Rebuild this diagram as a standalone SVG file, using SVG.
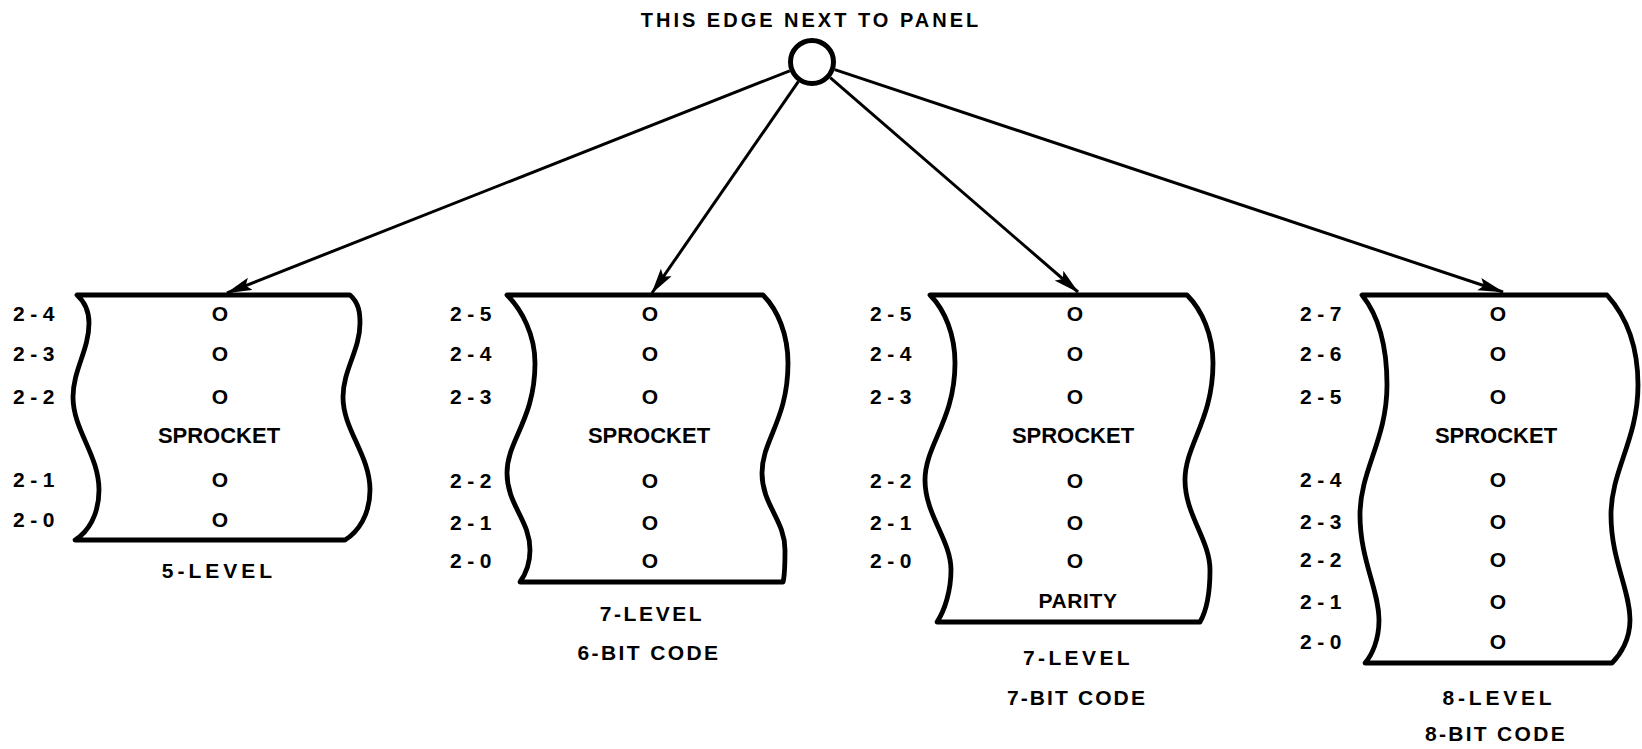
<svg xmlns="http://www.w3.org/2000/svg" width="1642" height="749" viewBox="0 0 1642 749">
<style>
text{font-family:"Liberation Sans",Arial,sans-serif;font-weight:bold;fill:#000}
.tape{fill:#fff;stroke:#000;stroke-width:4.8;stroke-linejoin:round}
.lbl{font-size:21px;letter-spacing:5.5px}
.hole{font-size:21px;text-anchor:middle}
.spr{font-size:22px;text-anchor:middle}
.cap{font-size:21px;text-anchor:middle}
.conn line{stroke:#000;stroke-width:3}
</style>
<defs>
<marker id="ah" viewBox="0 0 26 14" refX="25" refY="7" markerWidth="26" markerHeight="14" markerUnits="userSpaceOnUse" orient="auto">
<path d="M0,0.5 L26,7 L0,13.5 L5,7 Z" fill="#000"/>
</marker>
</defs>
<rect width="1642" height="749" fill="#fff"/>

<g id="panel-edge">
<text x="811" y="27" font-size="20" text-anchor="middle" letter-spacing="3">THIS EDGE NEXT TO PANEL</text>
<circle cx="812" cy="62" r="21.5" fill="#fff" stroke="#000" stroke-width="5"/>
</g>

<g id="connectors" class="conn">
<line x1="789.7" y1="70.8" x2="227" y2="293" marker-end="url(#ah)"/>
<line x1="798.3" y1="81.7" x2="652" y2="293" marker-end="url(#ah)"/>
<line x1="830.2" y1="77.7" x2="1078" y2="292" marker-end="url(#ah)"/>
<line x1="834.8" y1="69.6" x2="1503" y2="292" marker-end="url(#ah)"/>
</g>

<g id="tape-5-level">
<path class="tape" d="M77,295 H350 C359,303 360,313 360,323 C360,350 343,370 343,397 C343,430 370,455 370,490 C370,515 358,532 345,540 H75 C88,532 99,515 99,490 C99,455 73,430 73,397 C73,370 89,350 89,323 C89,313 86,303 77,295 Z"/>
<text class="lbl" x="13" y="320.5">2-4</text>
<text class="lbl" x="13" y="360.5">2-3</text>
<text class="lbl" x="13" y="403.5">2-2</text>
<text class="lbl" x="13" y="486.5">2-1</text>
<text class="lbl" x="13" y="526.5">2-0</text>
<text class="hole" x="220" y="320.5">O</text>
<text class="hole" x="220" y="360.5">O</text>
<text class="hole" x="220" y="403.5">O</text>
<text class="spr" x="219" y="443">SPROCKET</text>
<text class="hole" x="220" y="486.5">O</text>
<text class="hole" x="220" y="526.5">O</text>
<text class="cap" x="219" y="578" font-size="20" letter-spacing="4">5-LEVEL</text>
</g>

<g id="tape-7-level-6-bit">
<path class="tape" d="M507,295 H763 C778,310 788,335 788,363 C788,420 762,440 762,473 C762,505 785,520 785,550 C785,565 785,575 783,582 H520 C525,575 530,565 530,550 C530,520 507,505 507,473 C507,440 535,420 535,363 C535,335 522,310 507,295 Z"/>
<text class="lbl" x="450" y="320.5">2-5</text>
<text class="lbl" x="450" y="360.5">2-4</text>
<text class="lbl" x="450" y="403.5">2-3</text>
<text class="lbl" x="450" y="487.5">2-2</text>
<text class="lbl" x="450" y="529.5">2-1</text>
<text class="lbl" x="450" y="567.5">2-0</text>
<text class="hole" x="650" y="320.5">O</text>
<text class="hole" x="650" y="360.5">O</text>
<text class="hole" x="650" y="403.5">O</text>
<text class="spr" x="649" y="443">SPROCKET</text>
<text class="hole" x="650" y="487.5">O</text>
<text class="hole" x="650" y="529.5">O</text>
<text class="hole" x="650" y="567.5">O</text>
<text class="cap" x="652" y="620.5" letter-spacing="2.6">7-LEVEL</text>
<text class="cap" x="649" y="659.5" letter-spacing="2.4">6-BIT CODE</text>
</g>

<g id="tape-7-level-7-bit">
<path class="tape" d="M930,295 H1187 C1202,310 1213,335 1213,363 C1213,420 1185,445 1185,480 C1185,515 1210,540 1210,570 C1210,590 1207,610 1200,622 H937 C945,610 951,590 951,570 C951,540 925,515 925,480 C925,445 955,420 955,363 C955,335 945,310 930,295 Z"/>
<text class="lbl" x="870" y="320.5">2-5</text>
<text class="lbl" x="870" y="360.5">2-4</text>
<text class="lbl" x="870" y="403.5">2-3</text>
<text class="lbl" x="870" y="487.5">2-2</text>
<text class="lbl" x="870" y="529.5">2-1</text>
<text class="lbl" x="870" y="567.5">2-0</text>
<text class="hole" x="1075" y="320.5">O</text>
<text class="hole" x="1075" y="360.5">O</text>
<text class="hole" x="1075" y="403.5">O</text>
<text class="spr" x="1073" y="443">SPROCKET</text>
<text class="hole" x="1075" y="487.5">O</text>
<text class="hole" x="1075" y="529.5">O</text>
<text class="hole" x="1075" y="567.5">O</text>
<text class="cap" x="1078" y="607.5" letter-spacing="0.6">PARITY</text>
<text class="cap" x="1078" y="664.5" letter-spacing="3.4">7-LEVEL</text>
<text class="cap" x="1077" y="704.5" letter-spacing="2.1">7-BIT CODE</text>
</g>

<g id="tape-8-level-8-bit">
<path class="tape" d="M1362,295 H1607 C1625,315 1638,345 1638,385 C1638,440 1611,470 1611,515 C1611,560 1630,590 1630,620 C1630,640 1620,655 1612,663 H1365 C1372,655 1379,640 1379,620 C1379,590 1360,560 1360,515 C1360,470 1387,440 1387,385 C1387,345 1378,315 1362,295 Z"/>
<text class="lbl" x="1300" y="320.5">2-7</text>
<text class="lbl" x="1300" y="360.5">2-6</text>
<text class="lbl" x="1300" y="403.5">2-5</text>
<text class="lbl" x="1300" y="486.5">2-4</text>
<text class="lbl" x="1300" y="528.5">2-3</text>
<text class="lbl" x="1300" y="566.5">2-2</text>
<text class="lbl" x="1300" y="608.5">2-1</text>
<text class="lbl" x="1300" y="648.5">2-0</text>
<text class="hole" x="1498" y="320.5">O</text>
<text class="hole" x="1498" y="360.5">O</text>
<text class="hole" x="1498" y="403.5">O</text>
<text class="spr" x="1496" y="443">SPROCKET</text>
<text class="hole" x="1498" y="486.5">O</text>
<text class="hole" x="1498" y="528.5">O</text>
<text class="hole" x="1498" y="566.5">O</text>
<text class="hole" x="1498" y="608.5">O</text>
<text class="hole" x="1498" y="648.5">O</text>
<text class="cap" x="1499" y="704.5" letter-spacing="3.8">8-LEVEL</text>
<text class="cap" x="1496" y="740.5" letter-spacing="2.3">8-BIT CODE</text>
</g>
</svg>
